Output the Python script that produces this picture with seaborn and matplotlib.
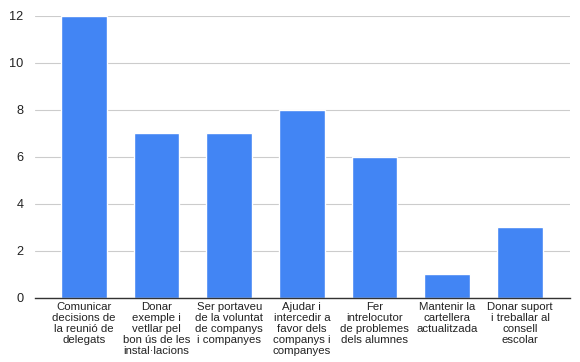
import matplotlib
matplotlib.use("Agg")
import matplotlib.pyplot as plt
import seaborn as sns
import pandas as pd

sns.set_theme(style="white")
plt.rcParams["font.family"] = ["Liberation Sans", "DejaVu Sans"]

categories = [
    "Comunicar\ndecisions de\nla reunió de\ndelegats",
    "Donar\nexemple i\nvetllar pel\nbon ús de les\ninstal·lacions",
    "Ser portaveu\nde la voluntat\nde companys\ni companyes",
    "Ajudar i\nintercedir a\nfavor dels\ncompanys i\ncompanyes",
    "Fer\nintrelocutor\nde problemes\ndels alumnes",
    "Mantenir la\ncartellera\nactualitzada",
    "Donar suport\ni treballar al\nconsell\nescolar",
]
values = [12, 7, 7, 8, 6, 1, 3]

df = pd.DataFrame({"categoria": categories, "valor": values})

fig = plt.figure(figsize=(5.8, 3.62), dpi=100)
ax = fig.add_axes([0.060, 0.177, 0.923, 0.779])

sns.barplot(data=df, x="categoria", y="valor", color="#4285F4",
            saturation=1, width=0.63, ax=ax)

ax.set_xlim(-0.674, 6.69)
ax.set_ylim(0, 12)
ax.set_yticks([0, 2, 4, 6, 8, 10, 12])
ax.yaxis.grid(True, color="#cccccc", linewidth=0.8)
ax.set_axisbelow(True)
ax.set_xlabel("")
ax.set_ylabel("")

for s in ["top", "right", "left"]:
    ax.spines[s].set_visible(False)
ax.spines["bottom"].set_color("#333333")
ax.spines["bottom"].set_linewidth(1)

ax.tick_params(axis="y", length=0, labelsize=9.2, colors="#222222", pad=8)
ax.tick_params(axis="x", length=0, labelsize=8.2, colors="#222222", pad=3)
for lbl in ax.get_xticklabels():
    lbl.set_linespacing(1.12)

plt.savefig("out.png", dpi=100)
plt.close()
